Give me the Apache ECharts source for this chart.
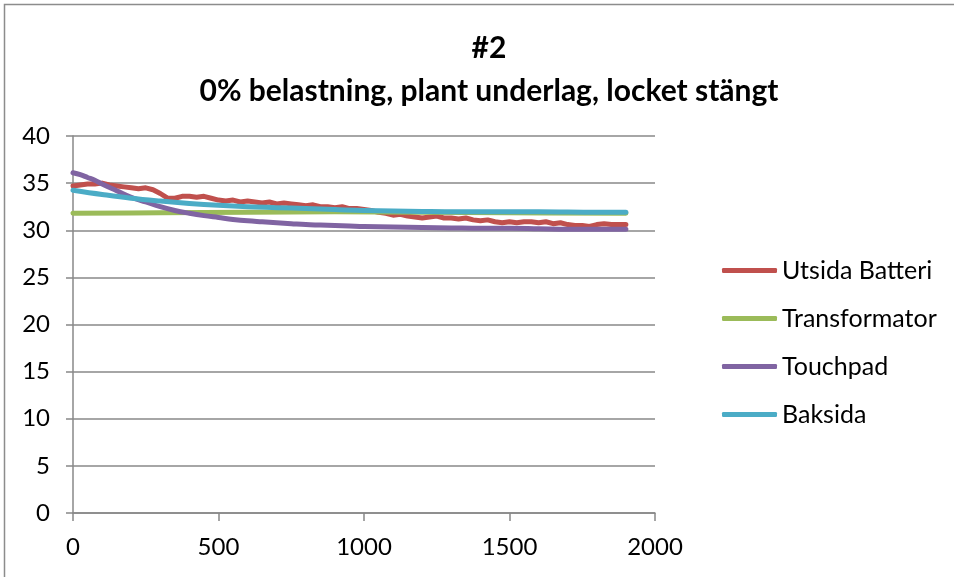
<!DOCTYPE html>
<html>
<head>
<meta charset="utf-8">
<script src="https://cdn.jsdelivr.net/npm/echarts@6/dist/echarts.min.js"></script>
<style>
  html, body { margin: 0; padding: 0; background: #fff; }
  #chart { width: 954px; height: 577px; }
</style>
</head>
<body>
<div id="chart"></div>
<script>
// Temperature logs, 0% load, flat surface, lid closed
const titleMain = '#2';
const titleSub = '0% belastning, plant underlag, locket stängt';
const seriesNames = ['Utsida Batteri', 'Transformator', 'Touchpad', 'Baksida'];
const xTicks = [0, 500, 1000, 1500, 2000];
const yTicks = [0, 5, 10, 15, 20, 25, 30, 35, 40];

// Utsida Batteri, sampled every 25 s
const batteriX = [0,25,50,75,100,125,150,175,200,225,250,275,300,325,350,375,400,425,450,475,
  500,525,550,575,600,625,650,675,700,725,750,775,800,825,850,875,900,925,950,975,
  1000,1025,1050,1075,1100,1125,1150,1175,1200,1225,1250,1275,1300,1325,1350,1375,1400,1425,1450,1475,
  1500,1525,1550,1575,1600,1625,1650,1675,1700,1725,1750,1775,1800,1825,1850,1875,1900];
const batteriY = [34.7,34.8,34.9,34.9,35.0,34.8,34.7,34.6,34.5,34.4,34.5,34.3,33.9,33.4,33.4,33.6,33.6,33.5,33.6,33.4,
  33.2,33.1,33.2,33.0,33.1,33.0,32.9,33.0,32.8,32.9,32.8,32.7,32.6,32.7,32.5,32.5,32.4,32.5,32.3,32.3,
  32.2,32.1,31.9,31.8,31.6,31.7,31.5,31.4,31.3,31.4,31.5,31.3,31.3,31.2,31.3,31.1,31.0,31.1,30.9,30.8,
  30.9,30.8,30.9,30.9,30.8,30.9,30.7,30.8,30.6,30.5,30.5,30.4,30.6,30.7,30.6,30.6,30.6];

// Transformator
const transX = [0, 300, 600, 900, 1200, 1500, 1900];
const transY = [31.8, 31.85, 31.9, 31.95, 31.9, 31.85, 31.8];

// Touchpad
const touchX = [0,25,50,75,100,150,200,250,300,350,400,450,500,550,600,650,700,750,800,850,900,950,
  1000,1100,1200,1300,1400,1500,1600,1700,1800,1900];
const touchY = [36.1,35.9,35.6,35.3,34.9,34.2,33.5,33.0,32.5,32.1,31.8,31.55,31.35,31.15,31.0,30.9,30.8,30.7,30.6,30.55,30.5,30.45,
  30.4,30.35,30.3,30.25,30.2,30.2,30.15,30.1,30.1,30.1];

// Baksida
const baksX = [0,100,200,300,400,500,600,700,800,900,1000,1200,1400,1600,1800,1900];
const baksY = [34.25,33.8,33.4,33.1,32.85,32.65,32.5,32.4,32.3,32.2,32.1,32.0,31.95,31.95,31.9,31.9];

const colors = ['#C0504D', '#9BBB59', '#8064A2', '#4BACC6'];
const font = 'Lato, "Open Sans", sans-serif';

function pairs(xs, ys) { return xs.map((x, i) => [x, ys[i]]); }

const chart = echarts.init(document.getElementById('chart'), null, { renderer: 'canvas' });

const lineSeries = [
  pairs(batteriX, batteriY),
  pairs(transX, transY),
  pairs(touchX, touchY),
  pairs(baksX, baksY)
].map((data, i) => ({
  name: seriesNames[i],
  type: 'line',
  data: data,
  showSymbol: false,
  symbol: 'none',
  smooth: i === 0 ? false : 0.4,
  lineStyle: { color: colors[i], width: 5, cap: 'round', join: 'round' },
  itemStyle: { color: colors[i] },
  z: 2 + i,
  animation: false
}));

chart.setOption({
  animation: false,
  backgroundColor: '#fff',
  color: colors,
  title: [
    { text: titleMain, left: 484, top: 28, textAlign: 'center',
      textStyle: { fontFamily: font, fontWeight: 'bold', fontSize: 30, color: '#000' } },
    { text: titleSub, left: 484, top: 71, textAlign: 'center',
      textStyle: { fontFamily: font, fontWeight: 'bold', fontSize: 30, color: '#000' } }
  ],
  graphic: [
    { type: 'rect', silent: true, shape: { x: 4.5, y: 4.5, width: 1200, height: 1200 },
      style: { fill: 'none', stroke: '#8c8c8c', lineWidth: 1.5 } }
  ],
  legend: {
    orient: 'vertical',
    left: 717,
    top: 253,
    itemWidth: 55,
    itemHeight: 5,
    itemGap: 23,
    icon: 'roundRect',
    data: seriesNames,
    textStyle: { fontFamily: font, fontSize: 25, color: '#000', lineHeight: 25 }
  },
  grid: { left: 73, top: 136, right: 299, bottom: 64, containLabel: false },
  xAxis: {
    type: 'value',
    min: xTicks[0],
    max: xTicks[xTicks.length - 1],
    interval: 500,
    axisLine: { show: true, onZero: false, lineStyle: { color: '#888', width: 1.5 } },
    axisTick: { show: true, length: 8, lineStyle: { color: '#888', width: 1.5 } },
    splitLine: { show: false },
    axisLabel: { fontFamily: font, fontSize: 24, color: '#000', margin: 22,
      formatter: v => String(v) }
  },
  yAxis: {
    type: 'value',
    min: yTicks[0],
    max: yTicks[yTicks.length - 1],
    interval: 5,
    axisLine: { show: true, lineStyle: { color: '#888', width: 1.5 } },
    axisTick: { show: true, length: 7, lineStyle: { color: '#888', width: 1.5 } },
    splitLine: { show: true, lineStyle: { color: '#888', width: 1.5 } },
    axisLabel: { fontFamily: font, fontSize: 24, color: '#000', margin: 23,
      formatter: v => String(v) }
  },
  series: lineSeries
});
</script>
</body>
</html>
